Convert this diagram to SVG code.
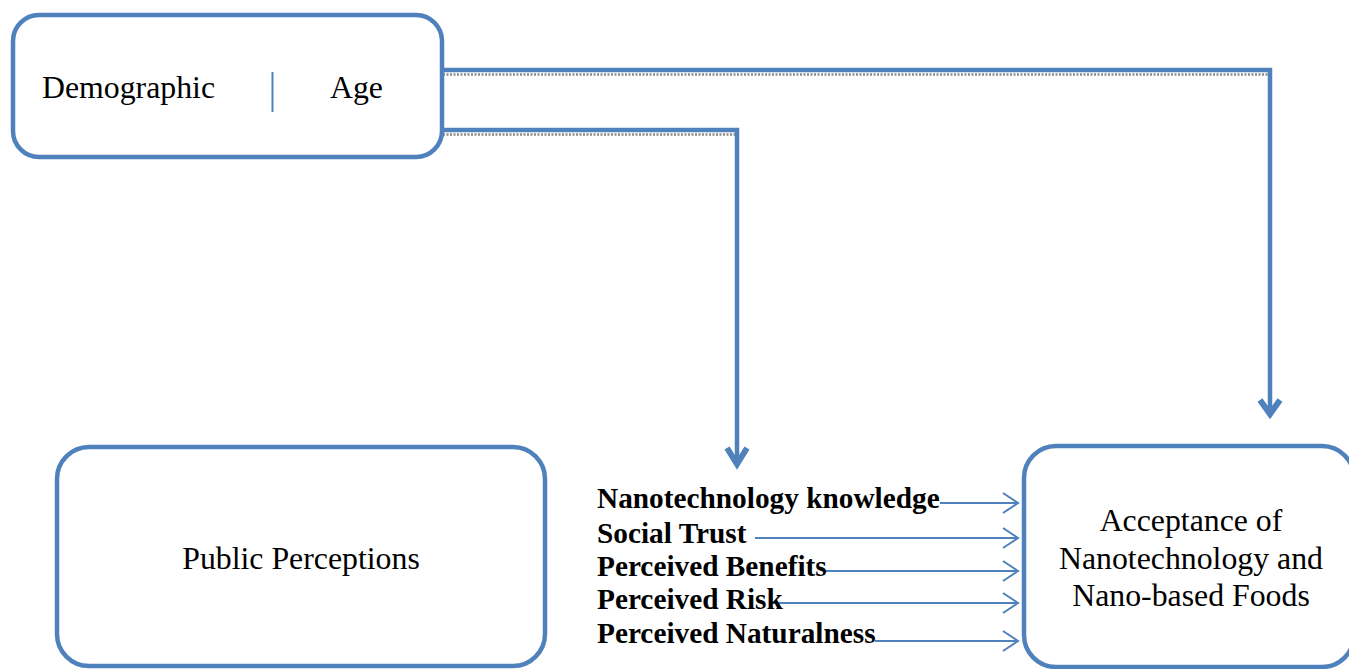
<svg xmlns="http://www.w3.org/2000/svg" width="1349" height="669" viewBox="0 0 1349 669">
<style>
.box{fill:#fff;stroke:#4F81BD;stroke-width:4.5}
.t{font-family:"Liberation Serif","Times New Roman",serif;font-size:31.8px;fill:#000}
.b{font-family:"Liberation Serif","Times New Roman",serif;font-size:29.3px;font-weight:bold;fill:#000}
.thick{fill:none;stroke:#4F81BD;stroke-width:4.5}
.head{fill:none;stroke:#4F81BD;stroke-width:6;stroke-linejoin:miter}
.dots{fill:none;stroke:#8a8a8a;stroke-width:2.5;stroke-dasharray:2 1.5}
.thin{fill:none;stroke:#4F81BD;stroke-width:2}
</style>
<rect width="1349" height="669" fill="#fff"/>
<g id="connectors">
  <line class="dots" x1="443" y1="74.5" x2="1268" y2="74.5"/>
  <path class="thick" d="M443,70 H1270 V414"/>
  <path class="head" d="M1260,400 L1270,414 L1280,400"/>
  <line class="dots" x1="443" y1="134.5" x2="735" y2="134.5"/>
  <path class="thick" d="M443,130 H737 V464"/>
  <path class="head" d="M727,448 L737,464 L747,448"/>
  <path class="thin" d="M940,503 H1017 M1003,493 L1018,503 L1003,513"/>
  <path class="thin" d="M755,538 H1017 M1003,528 L1018,538 L1003,548"/>
  <path class="thin" d="M825,571 H1017 M1003,561 L1018,571 L1003,581"/>
  <path class="thin" d="M773,603 H1017 M1003,593 L1018,603 L1003,613"/>
  <path class="thin" d="M875,641 H1017 M1003,631 L1018,641 L1003,651"/>
</g>
<g id="demographic">
  <rect class="box" x="13" y="15" width="429" height="142" rx="26"/>
  <line x1="272.5" y1="72" x2="272.5" y2="112" stroke="#4F81BD" stroke-width="2"/>
  <text class="t" x="42" y="98">Demographic</text>
  <text class="t" x="330" y="98">Age</text>
</g>
<g id="public-perceptions">
  <rect class="box" x="57" y="447" width="488" height="219" rx="32"/>
  <text class="t" x="301" y="569" text-anchor="middle">Public Perceptions</text>
</g>
<g id="factors">
  <text class="b" x="597" y="508">Nanotechnology knowledge</text>
  <text class="b" x="597" y="543">Social Trust</text>
  <text class="b" x="597" y="576">Perceived Benefits</text>
  <text class="b" x="597" y="609">Perceived Risk</text>
  <text class="b" x="597" y="643">Perceived Naturalness</text>
</g>
<g id="acceptance">
  <rect class="box" x="1024" y="446" width="330" height="221" rx="32"/>
  <text class="t" x="1191" y="531" text-anchor="middle">Acceptance of</text>
  <text class="t" x="1191" y="569" text-anchor="middle">Nanotechnology and</text>
  <text class="t" x="1191" y="606" text-anchor="middle">Nano-based Foods</text>
</g>
</svg>
